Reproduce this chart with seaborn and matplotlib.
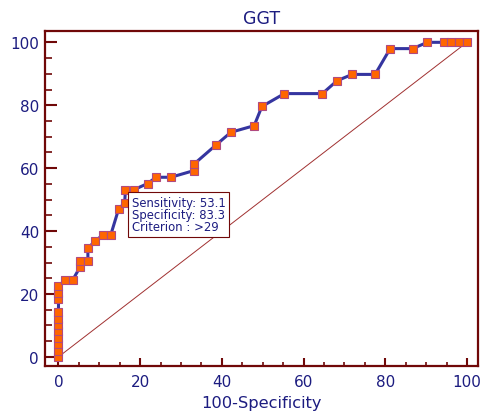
import matplotlib
matplotlib.use("Agg")
import matplotlib.pyplot as plt
import seaborn as sns
import numpy as np
import pandas as pd
from matplotlib.ticker import MultipleLocator

# ROC points (100-Specificity, Sensitivity)
fpr = [0, 0, 0, 0, 0, 0, 0, 0, 0, 0, 0,
       1.6, 3.5, 5.3, 5.3, 7.2, 7.2, 9.0, 10.8, 12.8, 14.7, 16.2, 16.4, 18.4,
       21.8, 23.9, 27.5, 33.1, 33.1, 38.5, 42.2, 47.9, 49.8, 55.3, 64.6,
       68.2, 71.9, 77.5, 81.2, 86.7, 90.3, 94.3, 96.1, 98.0, 100]
tpr = [0, 2.0, 4.1, 6.1, 8.2, 10.2, 12.2, 14.3, 18.4, 20.4, 22.4,
       24.5, 24.5, 28.6, 30.6, 30.6, 34.7, 36.7, 38.8, 38.8, 46.9, 49.0, 53.1, 53.1,
       55.1, 57.1, 57.1, 59.2, 61.2, 67.3, 71.4, 73.5, 79.6, 83.7, 83.7,
       87.8, 89.8, 89.8, 98.0, 98.0, 100, 100, 100, 100, 100]
diag = [0, 100]
title = "GGT"
xlabel = "100-Specificity"
box_text = "Sensitivity: 53.1\nSpecificity: 83.3\nCriterion : >29"

df = pd.DataFrame({"fpr": fpr, "tpr": tpr})

sns.set_style("white")
plt.rcParams['font.family'] = ['DejaVu Sans']

maroon = "#700808"
navy = "#1c1c80"

fig = plt.figure(figsize=(4.81, 4.14), dpi=100)
ax = fig.add_axes([45/481, 1-367/414, (478-45)/481, (367-32)/414])

ax.plot(diag, diag, color="#a03030", lw=0.7, zorder=1)
sns.lineplot(data=df, x="fpr", y="tpr", sort=False, estimator=None, ax=ax,
             color="#3535a0", lw=2.2, marker="s", markersize=6.4,
             markerfacecolor="#ff6600", markeredgecolor="#b04a80",
             markeredgewidth=0.8, zorder=3)

ax.set_xlim(-3.3, 102.7)
ax.set_ylim(-2.9, 103.6)
ax.xaxis.set_major_locator(MultipleLocator(20))
ax.xaxis.set_minor_locator(MultipleLocator(5))
ax.yaxis.set_major_locator(MultipleLocator(20))
ax.yaxis.set_minor_locator(MultipleLocator(5))

for s in ax.spines.values():
    s.set_color(maroon)
    s.set_linewidth(1.6)

ax.tick_params(axis='x', which='major', direction='in', length=5.8, width=1.5,
               color=maroon, labelcolor=navy, labelsize=11, pad=6,
               bottom=True)
ax.tick_params(axis='x', which='minor', direction='in', length=2.9, width=1.2,
               color=maroon, bottom=True)
ax.tick_params(axis='y', which='major', direction='in', length=8.4, width=1.5,
               color=maroon, labelcolor=navy, labelsize=11, pad=4.3, left=True)
ax.tick_params(axis='y', which='minor', direction='in', length=4.8, width=1.2,
               color=maroon, left=True)

ax.set_title(title, color=navy, fontsize=12.5, pad=6)
ax.set_xlabel(xlabel, color=navy, fontsize=11.7, labelpad=4)
ax.set_ylabel("")

ax.text(17.9, 51.2, box_text, ha='left', va='top', color=navy, fontsize=8.4,
        linespacing=0.92,
        bbox=dict(boxstyle='square,pad=0.33', fc='white', ec=maroon, lw=0.8),
        zorder=5)

fig.savefig("out.png", dpi=100)
